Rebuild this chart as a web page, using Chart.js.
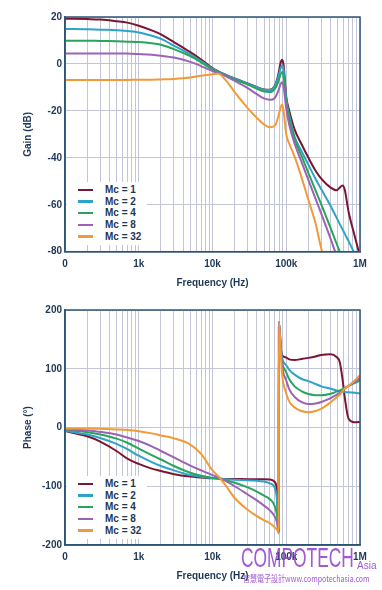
<!DOCTYPE html>
<html>
<head>
<meta charset="utf-8">
<script src="https://cdn.jsdelivr.net/npm/chart.js@4.4.1/dist/chart.umd.min.js"></script>
<style>
  body { margin: 0; background: #fff; width: 382px; height: 590px; overflow: hidden; position: relative; font-family: 'Liberation Sans', Arial, sans-serif; }
  .panel { position: absolute; left: 0; width: 382px; height: 295px; }
  .legend { position: absolute; left: 67px; width: 80px; background: #fff; padding: 2px 0 3px 0; }
  .legend .row { position: relative; height: 11.7px; line-height: 11.7px; font-weight: bold; font-size: 10px; color: #1e3756; }
  .legend .sw { position: absolute; left: 11px; top: 4.6px; width: 15px; height: 2.5px; }
  .legend .tx { position: absolute; left: 38px; top: 0; }
  .wm { position: absolute; color: rgba(148, 66, 208, 0.88); white-space: nowrap; transform-origin: 0 0; line-height: 1; }
</style>
</head>
<body>
<div class="panel" style="top:0"><canvas id="gain" width="382" height="295"></canvas></div>
<div class="panel" style="top:295px"><canvas id="phase" width="382" height="295"></canvas></div>
<div class="legend" id="gainLegend" style="top:182px"></div>
<div class="legend" id="phaseLegend" style="top:476px"></div>
<div class="wm" style="left:241px; top:544px; font-size:28px; transform:scaleX(0.62)">COMPOTECH</div>
<div class="wm" style="left:357px; top:561px; font-size:10px">Asia</div>
<div class="wm" style="left:243px; top:574px; font-size:9px; transform:scaleX(0.78); font-family:'Noto Sans CJK TC', sans-serif">智慧電子設計www.compotechasia.com</div>
<script>
// x axis
const majorTicks = [100, 1000, 10000, 100000, 1000000];
const tickLabels = ['0', '1k', '10k', '100k', '1M'];

const seriesLabels = ['Mc = 1', 'Mc = 2', 'Mc = 4', 'Mc = 8', 'Mc = 32'];
const seriesColors = ['#7a1632', '#2ea3c9', '#27a55a', '#9b62b6', '#f39a38'];

// gain (dB)
const gainFreq = [100, 200, 300, 500, 700, 1000, 1500, 2000, 3000, 5000, 7000, 10000, 12000, 15000, 20000, 30000, 40000, 50000, 60000, 70000, 78000, 84000, 88000, 92000, 100000, 110000, 130000, 160000, 200000, 250000, 300000, 400000, 480000, 580000, 620000, 700000, 850000, 1000000];
const gainMc1 = [19.3, 19.1, 18.9, 18.2, 17.6, 16.3, 14.3, 12.6, 9.3, 5.0, 1.9, -1.8, -3.2, -4.6, -6.2, -8.3, -9.9, -10.9, -11.0, -9.3, -4.6, 0.6, 1.8, -0.5, -14, -20, -28, -34, -40, -45.5, -49, -52.7, -53.8, -51.8, -53.5, -63, -73.5, -82];
const gainMc2 = [14.9, 14.8, 14.6, 14.4, 14.0, 13.4, 12.0, 10.7, 7.8, 4.0, 1.2, -2.0, -3.3, -4.7, -6.3, -8.4, -10.0, -11.0, -11.1, -9.5, -5.5, -1.8, -0.6, -2.5, -15, -22, -31, -37, -43, -49, -53.5, -60.5, -65.5, -70.5, -72.3, -75.5, -81, -86];
const gainMc4 = [9.9, 9.9, 9.8, 9.7, 9.5, 9.3, 8.8, 8.2, 6.3, 3.3, 0.7, -2.3, -3.5, -4.9, -6.6, -8.8, -10.6, -11.8, -12.0, -10.6, -7.6, -4.3, -3.4, -5.2, -16, -23, -32, -39, -46.5, -54, -60, -70, -76.5, -83, -85.5, -90, -97, -102];
const gainMc8 = [4.5, 4.5, 4.5, 4.4, 4.4, 4.2, 3.9, 3.5, 2.7, 0.9, -0.9, -3.0, -3.9, -5.2, -7.2, -10.3, -12.9, -14.7, -15.3, -14.5, -11.5, -8.5, -7.8, -9.6, -19, -26, -34, -41.5, -49.5, -57.5, -64, -74.5, -81.5, -88, -90.5, -94, -100, -105];
const gainMc32 = [-6.8, -6.8, -6.8, -6.8, -6.8, -6.7, -6.7, -6.6, -6.4, -5.8, -5.0, -4.4, -4.1, -6.8, -12.0, -18.8, -23, -25.8, -27, -26.3, -22.5, -18.5, -17.3, -20, -30, -34, -39.5, -48, -58, -68, -79, -92, -100, -108, -111, -115, -122, -128];

// phase (degrees), wraps from -180 to +180 near 80 kHz
const phaseFreq = [100, 200, 300, 500, 700, 1000, 1500, 2000, 3000, 5000, 7000, 10000, 12000, 15000, 20000, 30000, 40000, 50000, 60000, 70000, 75000, 79000, 79500, 84000, 88000, 100000, 110000, 130000, 160000, 200000, 250000, 300000, 400000, 480000, 530000, 580000, 620000, 700000, 850000, 1000000];
const phaseMc1 = [-6, -15, -24, -40, -53, -62, -70, -74, -79.5, -83.5, -85, -86.5, -87, -87.5, -87.5, -88, -88, -88, -88.5, -93, -110, -178, 179, 135, 123, 119, 116, 115, 116.5, 118.5, 121, 123.5, 124.5, 120, 112, 82, 52, 15, 9, 9.5];
const phaseMc2 = [-5.5, -12, -18, -28, -37, -48, -59, -65.5, -73, -81, -84, -86, -87, -88, -89, -90, -90.5, -92, -95, -103, -125, -180, 179, 140, 118, 106, 98, 90, 83, 79, 74, 70, 66, 63, 62, 61, 60.5, 60, 59, 58];
const phaseMc4 = [-4, -8, -12, -19, -26, -36, -47, -54.5, -65.5, -77, -82, -85.5, -87, -90, -94, -102, -109, -116, -122, -134, -150, -179, 179, 140, 112, 94, 82, 70, 62, 57, 55, 55, 57.5, 61, 63, 65.5, 67.5, 71, 76, 80];
const phaseMc8 = [-3, -5, -7.5, -12, -17, -23, -32, -40, -51, -65, -73, -81, -85, -91, -100, -114, -124, -133, -141, -152, -162, -180, 179, 140, 105, 80, 65, 52, 43.5, 40, 41, 43.5, 50, 55.5, 59, 63, 66, 71, 78, 84];
const phaseMc32 = [-1.5, -1.7, -2.3, -3.3, -4.2, -6.2, -10, -13.5, -18.5, -29, -45, -73, -83, -98, -120, -140, -151, -158, -163, -170, -174, -179, 179, 130, 90, 58, 44, 34, 28, 26, 28, 32, 43, 51, 56, 62, 66, 71, 80, 89];

const textColor = '#1e3756';
const axisColor = '#2d5576';
const gridColor = '#c3c6d7';

Chart.defaults.font.family = "'Liberation Sans', Arial, sans-serif";
Chart.defaults.font.size = 10;
Chart.defaults.font.weight = 'bold';
Chart.defaults.color = textColor;

// grid lines at 1..9 x each decade
const gridFreqs = [];
majorTicks.slice(0, -1).forEach(d => {
    for (let m = 1; m <= 9; m++) gridFreqs.push(m * d);
});
gridFreqs.push(1000000);

const framePlugin = {
    id: 'frame',
    afterDatasetsDraw(chart) {
        const { ctx, chartArea: a } = chart;
        ctx.save();
        ctx.strokeStyle = axisColor;
        ctx.lineWidth = 1.5;
        ctx.strokeRect(a.left, a.top, a.right - a.left, a.bottom - a.top);
        ctx.restore();
    }
};

function makeChart(id, freq, series, yCfg) {
    const datasets = series.map((vals, i) => ({
        label: seriesLabels[i],
        data: freq.map((f, j) => ({ x: f, y: vals[j] })),
        borderColor: seriesColors[i],
        backgroundColor: seriesColors[i],
        borderWidth: 2,
        pointRadius: 0,
        cubicInterpolationMode: 'monotone',
        order: series.length - i
    }));

    return new Chart(document.getElementById(id), {
        type: 'line',
        data: { datasets },
        plugins: [framePlugin],
        options: {
            responsive: false,
            animation: false,
            devicePixelRatio: 1,
            events: [],
            layout: { padding: { left: 0, right: 22, top: yCfg.top, bottom: 0 } },
            plugins: { legend: { display: false }, tooltip: { enabled: false } },
            scales: {
                x: {
                    type: 'logarithmic',
                    min: 100,
                    max: 1000000,
                    afterBuildTicks: s => { s.ticks = gridFreqs.map(v => ({ value: v, major: majorTicks.includes(v) })); },
                    afterFit: s => { s.height = yCfg.xHeight; },
                    ticks: {
                        autoSkip: false,
                        maxRotation: 0,
                        padding: yCfg.xTickPad,
                        callback: v => {
                            const k = majorTicks.indexOf(v);
                            return k < 0 ? '' : tickLabels[k];
                        }
                    },
                    grid: { color: gridColor, lineWidth: 1, drawTicks: false },
                    border: { color: axisColor, width: 1.5 },
                    title: { display: true, text: 'Frequency (Hz)', padding: { top: 0, bottom: yCfg.xTitlePad } }
                },
                y: {
                    min: yCfg.min,
                    max: yCfg.max,
                    afterFit: s => { s.width = 65; },
                    ticks: { stepSize: yCfg.step, padding: 3 },
                    grid: { color: gridColor, lineWidth: 1, drawTicks: false },
                    border: { color: axisColor, width: 1.5 },
                    title: { display: true, text: yCfg.title, padding: { top: 22, bottom: 0 } }
                }
            }
        }
    });
}

function buildLegend(chart, boxId) {
    const box = document.getElementById(boxId);
    box.innerHTML = chart.data.datasets.map(ds =>
        `<div class="row"><span class="sw" style="background:${ds.borderColor}"></span><span class="tx">${ds.label}</span></div>`
    ).join('');
}

const gainChart = makeChart('gain', gainFreq, [gainMc1, gainMc2, gainMc4, gainMc8, gainMc32],
    { min: -80, max: 20, step: 20, title: 'Gain (dB)', top: 17, xHeight: 43.3, xTickPad: 7, xTitlePad: 6 });
const phaseChart = makeChart('phase', phaseFreq, [phaseMc1, phaseMc2, phaseMc4, phaseMc8, phaseMc32],
    { min: -200, max: 200, step: 100, title: 'Phase (°)', top: 15, xHeight: 45, xTickPad: 6, xTitlePad: 8 });

buildLegend(gainChart, 'gainLegend');
buildLegend(phaseChart, 'phaseLegend');
</script>
</body>
</html>
